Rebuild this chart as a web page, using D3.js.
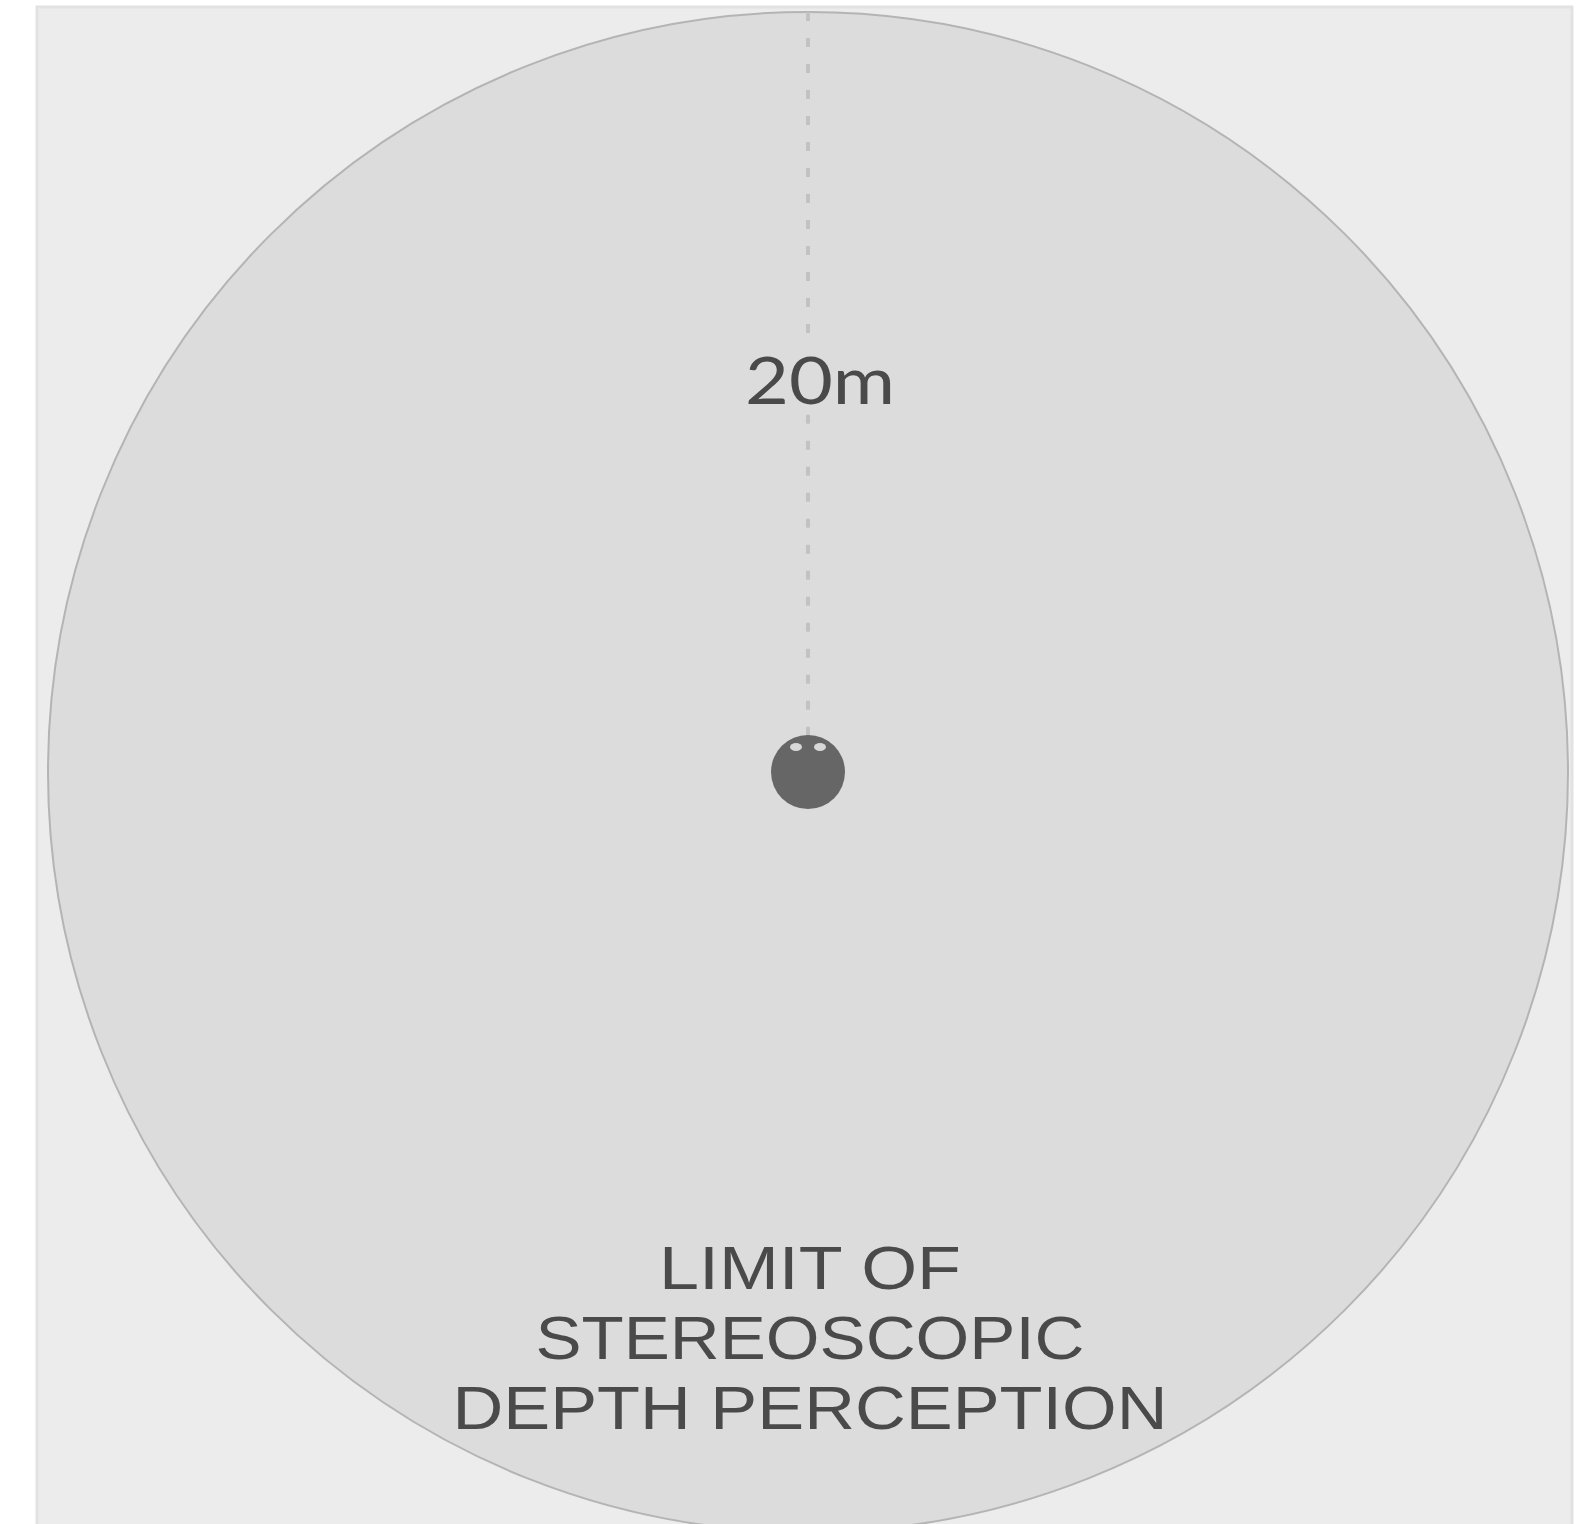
<!DOCTYPE html>
<html>
<head>
<meta charset="utf-8">
<script src="https://cdn.jsdelivr.net/npm/d3@7"></script>
<style>
  html, body { margin: 0; padding: 0; background: #fff; }
  svg { display: block; }
  text { font-family: Lato, "Noto Sans", sans-serif; fill: #4a4a4a; }
  text.caption { font-family: "Liberation Sans", Arial, sans-serif; }
</style>
</head>
<body>
<svg id="chart" width="1589" height="1524"></svg>
<script>
// distance ring, in metres
var limitMetres = 20;
var distanceLabel = "20m";
var captionLines = ["LIMIT OF", "STEREOSCOPIC", "DEPTH PERCEPTION"];
var captionWidths = [302, 549, 715];

var svg = d3.select("#chart");
var cx = 808, cy = 772;

// metres -> pixels
var r = d3.scaleLinear().domain([0, limitMetres]).range([0, 760]);

// panel
svg.append("rect")
    .attr("x", 37).attr("y", 7)
    .attr("width", 1535).attr("height", 1530)
    .attr("fill", "#ececec")
    .attr("stroke", "#e2e2e2")
    .attr("stroke-width", 3);

var g = svg.append("g").attr("transform", "translate(" + cx + "," + cy + ")");

// limit circle
g.append("circle")
    .attr("r", r(limitMetres))
    .attr("fill", "#dcdcdc")
    .attr("stroke", "#b4b4b4")
    .attr("stroke-width", 2);

// dotted radius, broken around the label
var segs = [[r(limitMetres), r(11.5)], [r(9.4), r(0.95)]];
g.selectAll("line.radius").data(segs)
    .enter().append("line")
    .attr("class", "radius")
    .attr("x1", 0).attr("x2", 0)
    .attr("y1", function (d) { return -d[0]; })
    .attr("y2", function (d) { return -d[1]; })
    .attr("stroke", "#c2c2c2")
    .attr("stroke-width", 4)
    .attr("stroke-dasharray", "9,17");

g.append("text")
    .attr("x", 12)
    .attr("y", -r(10.35))
    .attr("text-anchor", "middle")
    .attr("dominant-baseline", "central")
    .attr("font-size", 66)
    .attr("textLength", 150)
    .attr("lengthAdjust", "spacingAndGlyphs")
    .text(distanceLabel);

// observer
g.append("circle")
    .attr("r", 37)
    .attr("fill", "#666666");
g.selectAll("ellipse.eye").data([-12, 12])
    .enter().append("ellipse")
    .attr("class", "eye")
    .attr("cx", function (d) { return d; })
    .attr("cy", -25)
    .attr("rx", 6).attr("ry", 4)
    .attr("fill", "#d8d8d8");

// caption
svg.append("g").selectAll("text").data(captionLines)
    .enter().append("text")
    .attr("class", "caption")
    .attr("x", 810)
    .attr("y", function (d, i) { return 1289 + i * 70; })
    .attr("text-anchor", "middle")
    .attr("font-size", 61)
    .attr("textLength", function (d, i) { return captionWidths[i]; })
    .attr("lengthAdjust", "spacingAndGlyphs")
    .text(function (d) { return d; });
</script>
</body>
</html>
